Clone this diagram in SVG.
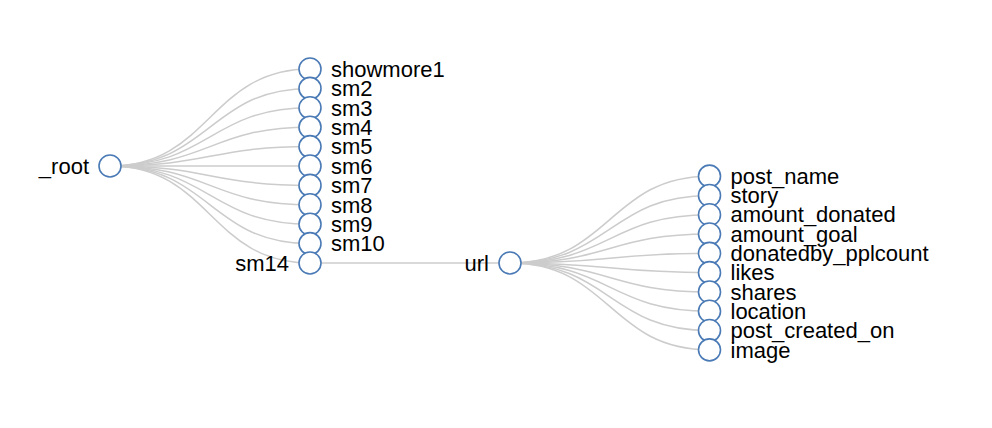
<svg xmlns="http://www.w3.org/2000/svg" width="992" height="428" viewBox="0 0 992 428">
<style>
.link{fill:none;stroke:#ccc;stroke-width:1.5}
.node circle{fill:#fff;stroke:#4a7ab5;stroke-width:1.6}
.node text{font-family:"Liberation Sans",Arial,sans-serif;font-size:22px;fill:#000}
.l{text-anchor:end}
</style>
<rect width="992" height="428" fill="#fff"/>
<g id="links">
<path class="link" d="M110,166C210,166 210,69 310,69"/>
<path class="link" d="M110,166C210,166 210,88.4 310,88.4"/>
<path class="link" d="M110,166C210,166 210,107.8 310,107.8"/>
<path class="link" d="M110,166C210,166 210,127.2 310,127.2"/>
<path class="link" d="M110,166C210,166 210,146.6 310,146.6"/>
<path class="link" d="M110,166C210,166 210,166 310,166"/>
<path class="link" d="M110,166C210,166 210,185.4 310,185.4"/>
<path class="link" d="M110,166C210,166 210,204.8 310,204.8"/>
<path class="link" d="M110,166C210,166 210,224.2 310,224.2"/>
<path class="link" d="M110,166C210,166 210,243.6 310,243.6"/>
<path class="link" d="M110,166C210,166 210,263 310,263"/>
<path class="link" d="M310,263C410,263 410,263 510,263"/>
<path class="link" d="M510,263C609.75,263 609.75,176.15 709.5,176.15"/>
<path class="link" d="M510,263C609.75,263 609.75,195.45 709.5,195.45"/>
<path class="link" d="M510,263C609.75,263 609.75,214.75 709.5,214.75"/>
<path class="link" d="M510,263C609.75,263 609.75,234.05 709.5,234.05"/>
<path class="link" d="M510,263C609.75,263 609.75,253.35 709.5,253.35"/>
<path class="link" d="M510,263C609.75,263 609.75,272.65 709.5,272.65"/>
<path class="link" d="M510,263C609.75,263 609.75,291.95 709.5,291.95"/>
<path class="link" d="M510,263C609.75,263 609.75,311.25 709.5,311.25"/>
<path class="link" d="M510,263C609.75,263 609.75,330.55 709.5,330.55"/>
<path class="link" d="M510,263C609.75,263 609.75,349.85 709.5,349.85"/>
</g>
<g id="root" class="node" transform="translate(110,166)"><circle r="11"/><text class="l" x="-21" dy="0.35em">_root</text></g>
<g id="showmore1" class="node" transform="translate(310,69)"><circle r="11"/><text x="21" dy="0.35em">showmore1</text></g>
<g id="sm2" class="node" transform="translate(310,88.4)"><circle r="11"/><text x="21" dy="0.35em">sm2</text></g>
<g id="sm3" class="node" transform="translate(310,107.8)"><circle r="11"/><text x="21" dy="0.35em">sm3</text></g>
<g id="sm4" class="node" transform="translate(310,127.2)"><circle r="11"/><text x="21" dy="0.35em">sm4</text></g>
<g id="sm5" class="node" transform="translate(310,146.6)"><circle r="11"/><text x="21" dy="0.35em">sm5</text></g>
<g id="sm6" class="node" transform="translate(310,166)"><circle r="11"/><text x="21" dy="0.35em">sm6</text></g>
<g id="sm7" class="node" transform="translate(310,185.4)"><circle r="11"/><text x="21" dy="0.35em">sm7</text></g>
<g id="sm8" class="node" transform="translate(310,204.8)"><circle r="11"/><text x="21" dy="0.35em">sm8</text></g>
<g id="sm9" class="node" transform="translate(310,224.2)"><circle r="11"/><text x="21" dy="0.35em">sm9</text></g>
<g id="sm10" class="node" transform="translate(310,243.6)"><circle r="11"/><text x="21" dy="0.35em">sm10</text></g>
<g id="sm14" class="node" transform="translate(310,263)"><circle r="11"/><text class="l" x="-21" dy="0.35em">sm14</text></g>
<g id="url" class="node" transform="translate(510,263)"><circle r="11"/><text class="l" x="-21" dy="0.35em">url</text></g>
<g id="post_name" class="node" transform="translate(709.5,176.15)"><circle r="11"/><text x="21" dy="0.35em">post_name</text></g>
<g id="story" class="node" transform="translate(709.5,195.45)"><circle r="11"/><text x="21" dy="0.35em">story</text></g>
<g id="amount_donated" class="node" transform="translate(709.5,214.75)"><circle r="11"/><text x="21" dy="0.35em">amount_donated</text></g>
<g id="amount_goal" class="node" transform="translate(709.5,234.05)"><circle r="11"/><text x="21" dy="0.35em">amount_goal</text></g>
<g id="donatedby_pplcount" class="node" transform="translate(709.5,253.35)"><circle r="11"/><text x="21" dy="0.35em">donatedby_pplcount</text></g>
<g id="likes" class="node" transform="translate(709.5,272.65)"><circle r="11"/><text x="21" dy="0.35em">likes</text></g>
<g id="shares" class="node" transform="translate(709.5,291.95)"><circle r="11"/><text x="21" dy="0.35em">shares</text></g>
<g id="location" class="node" transform="translate(709.5,311.25)"><circle r="11"/><text x="21" dy="0.35em">location</text></g>
<g id="post_created_on" class="node" transform="translate(709.5,330.55)"><circle r="11"/><text x="21" dy="0.35em">post_created_on</text></g>
<g id="image" class="node" transform="translate(709.5,349.85)"><circle r="11"/><text x="21" dy="0.35em">image</text></g>
</svg>
